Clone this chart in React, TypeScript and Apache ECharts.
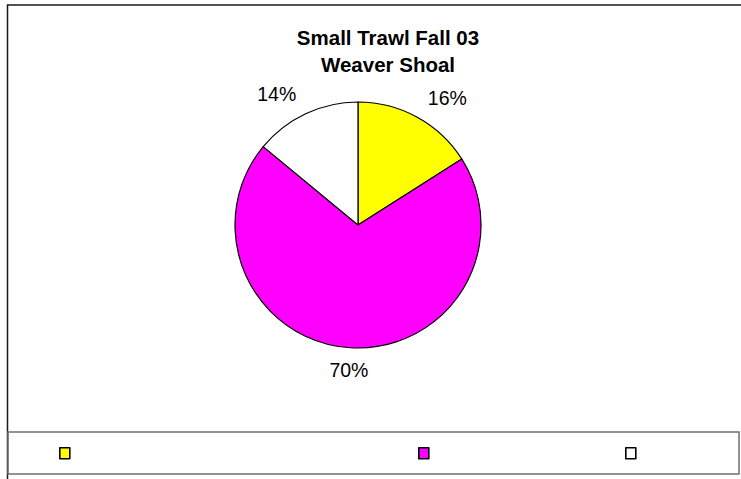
import React, { useEffect, useRef } from "react";
import * as echarts from "echarts";

const titleLines = ["Small Trawl Fall 03", "Weaver Shoal"];
const categories = ["Category 1", "Category 2", "Category 3"];
const values = [16, 70, 14];
const colors = ["#FFFF00", "#FF00FF", "#FFFFFF"];
const legendLefts = [59, 418, 625];

const pieCenter: [number, number] = [358, 225];

export default function App() {
  const ref = useRef<HTMLDivElement>(null);
  useEffect(() => {
    document.body.style.margin = "0";
    const chart = echarts.init(ref.current!, null, { renderer: "svg" });
    const font = "'Liberation Sans', Arial, sans-serif";
    chart.setOption({
      animation: false,
      backgroundColor: "#ffffff",
      title: {
        text: titleLines.join("\n"),
        left: 383,
        textAlign: "center",
        top: 19,
        textStyle: {
          fontFamily: font,
          fontWeight: "bold",
          fontSize: 20.5,
          lineHeight: 27,
          color: "#000",
        },
      },
      graphic: [
        {
          type: "rect",
          shape: { x: 7.5, y: 5, width: 800, height: 520 },
          style: { fill: "none", stroke: "#1a1a1a", lineWidth: 1.5 },
          silent: true,
          z: -10,
        },
        {
          type: "rect",
          shape: { x: 8, y: 432, width: 731, height: 42 },
          style: { fill: "none", stroke: "#707070", lineWidth: 1.5 },
          silent: true,
          z: -5,
        },
      ],
      legend: categories.map((c, i) => ({
        left: legendLefts[i],
        top: 447,
        padding: 0,
        data: [c],
        icon: "rect",
        itemWidth: 10,
        itemHeight: 11,
        itemStyle: { borderColor: "#000", borderWidth: 1.6 },
        formatter: () => "",
        selectedMode: false,
        textStyle: { fontSize: 1 },
      })),
      series: [
        {
          type: "pie",
          center: pieCenter,
          radius: 123,
          startAngle: 90,
          clockwise: true,
          data: categories.map((c, i) => ({
            name: c,
            value: values[i],
            itemStyle: { color: colors[i] },
          })),
          itemStyle: { borderColor: "#000", borderWidth: 1.2 },
          label: {
            show: true,
            position: "outside",
            formatter: "{d}%",
            fontFamily: font,
            fontSize: 19.5,
            color: "#000",
            distanceToLabelLine: 0,
          },
          labelLine: { show: false, length: 22, length2: 0 },
          labelLayout: (p: any) => {
            const pts = p.labelLinePoints;
            if (pts && Math.abs(pts[1][0] - pieCenter[0]) < 40) {
              return { align: "center" };
            }
            return {};
          },
          emphasis: { disabled: true },
        },
      ],
    });
    return () => chart.dispose();
  }, []);
  return <div ref={ref} style={{ width: 741, height: 479 }} />;
}
